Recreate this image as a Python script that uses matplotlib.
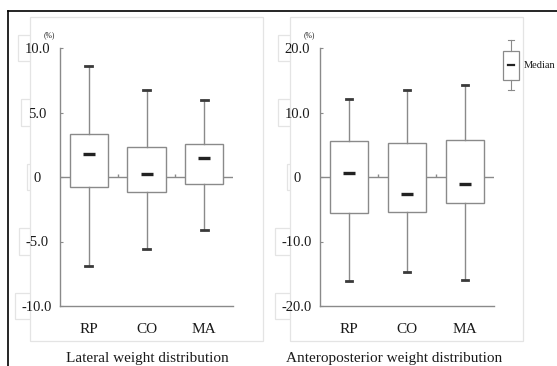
import matplotlib
matplotlib.use("Agg")
import matplotlib.pyplot as plt
from matplotlib.patches import Rectangle
from matplotlib.lines import Line2D
from matplotlib.transforms import offset_copy

plt.rcParams['font.family'] = ['Liberation Serif', 'DejaVu Serif']

# ---- data ----
categories = ["RP", "CO", "MA"]

lat_whislo = [-6.9, -5.6, -4.1]
lat_q1 = [-0.8, -1.15, -0.57]
lat_med = [1.8, 0.26, 1.45]
lat_q3 = [3.3, 2.3, 2.58]
lat_whishi = [8.63, 6.77, 5.97]
lat_ticks = [-10, -5, 0, 5, 10]
lat_ticklabels = ["-10.0", "-5.0", "0", "5.0", "10.0"]

ap_whislo = [-16.1, -14.7, -15.9]
ap_q1 = [-5.63, -5.48, -4.08]
ap_med = [0.57, -2.69, -1.14]
ap_q3 = [5.63, 5.32, 5.79]
ap_whishi = [12.04, 13.5, 14.2]
ap_ticks = [-20, -10, 0, 10, 20]
ap_ticklabels = ["-20.0", "-10.0", "0", "10.0", "20.0"]

titles = ["Lateral weight distribution", "Anteroposterior weight distribution"]
unit_label = "(%)"
legend_label = "Median"

W, H = 557, 366
DPI = 100
fig = plt.figure(figsize=(W / DPI, H / DPI), dpi=DPI)
fig.patch.set_facecolor("white")

def fx(px):
    return px / W

def fy(py):
    return 1 - py / H

GRAY = "#8a8a8a"
DARK = "#3a3a3a"
PANEL_EDGE = "#e4e4e4"
TEXT = "#1a1a1a"

# outer frame (top and left)
fig.add_artist(Line2D([fx(8), fx(W + 2)], [fy(11), fy(11)], color="black", lw=1.2, transform=fig.transFigure, zorder=3))
fig.add_artist(Line2D([fx(8), fx(8)], [fy(11), fy(H + 2)], color="black", lw=1.2, transform=fig.transFigure, zorder=3))

panels = [
    dict(panel=(30, 17, 263, 341), ax=(60, 48, 233, 306), ylim=(-10, 10),
         stats=(lat_whislo, lat_q1, lat_med, lat_q3, lat_whishi),
         ticks=lat_ticks, labels=lat_ticklabels, title=titles[0], title_x=147),
    dict(panel=(290, 17, 523, 341), ax=(320, 48, 494, 306), ylim=(-20, 20),
         stats=(ap_whislo, ap_q1, ap_med, ap_q3, ap_whishi),
         ticks=ap_ticks, labels=ap_ticklabels, title=titles[1], title_x=394),
]

positions = [1, 2, 3]

for p in panels:
    x0, y0, x1, y1 = p["panel"]
    fig.add_artist(Rectangle((fx(x0), fy(y1)), fx(x1) - fx(x0), fy(y0) - fy(y1),
                             transform=fig.transFigure, facecolor="white",
                             edgecolor=PANEL_EDGE, lw=0.9, zorder=1))
    ax0, ay0, ax1, ay1 = p["ax"]
    ax = fig.add_axes([fx(ax0), fy(ay1), fx(ax1) - fx(ax0), fy(ay0) - fy(ay1)])
    ax.set_zorder(2)
    ax.patch.set_visible(False)

    wlo, q1, med, q3, whi = p["stats"]
    bstats = [dict(whislo=a, q1=b, med=c, q3=d, whishi=e, label=lab)
              for a, b, c, d, e, lab in zip(wlo, q1, med, q3, whi, categories)]
    ax.bxp(bstats, positions=positions, widths=0.67, showfliers=False,
           patch_artist=True, capwidths=0.12,
           boxprops=dict(facecolor="white", edgecolor=GRAY, lw=1.0),
           whiskerprops=dict(color=GRAY, lw=1.0),
           capprops=dict(color=DARK, lw=2.0),
           medianprops=dict(lw=0))
    ax.plot(positions, med, ls="none", marker="_", ms=8, mew=2.4, color="#222222", zorder=5)

    ax.axhline(0, color=GRAY, lw=1.0, zorder=0.5)
    ax.plot([1.5, 2.5], [0, 0], ls="none", marker=2, ms=2.5, mew=1.0, color=GRAY, zorder=0.6)

    ax.set_xlim(0.5, 3.5)
    ax.set_ylim(*p["ylim"])
    for s in ["top", "right"]:
        ax.spines[s].set_visible(False)
    for s in ["left", "bottom"]:
        ax.spines[s].set_color(GRAY)
        ax.spines[s].set_linewidth(1.0)

    ax.set_xticks(positions)
    ax.set_xticklabels(categories, fontsize=11, color=TEXT)
    ax.tick_params(axis="x", length=0, pad=12.5)

    ax.set_yticks(p["ticks"])
    ax.set_yticklabels(p["labels"], fontsize=10.5, color=TEXT)
    ax.tick_params(axis="y", direction="in", length=2.2, color=GRAY, pad=16.5)
    for lbl in ax.get_yticklabels():
        lbl.set_horizontalalignment("center")

    # tick label boxes (drawn under the panel)
    trans = offset_copy(ax.get_yaxis_transform(), fig=fig, x=-16.5, y=0, units="points")
    for tv, tl in zip(p["ticks"], p["labels"]):
        fig.text(0, tv, tl, transform=trans, ha="center", va="center", fontsize=10.5,
                 color="none", zorder=0.5,
                 bbox=dict(boxstyle="square,pad=0.45", facecolor="white", edgecolor=PANEL_EDGE, lw=0.9))

    # unit label
    utrans = offset_copy(ax.get_yaxis_transform(), fig=fig, x=-8, y=9, units="points")
    ax.text(0, p["ylim"][1], unit_label, transform=utrans, ha="center", va="center",
            fontsize=5.5, color=TEXT, clip_on=False)

    fig.text(fx(p["title_x"]), fy(362), p["title"], ha="center", va="baseline",
             fontsize=11, color=TEXT)

# ---- legend glyph ----
lx = 511
fig.add_artist(Rectangle((fx(503), fy(80)), fx(519) - fx(503), fy(51) - fy(80), transform=fig.transFigure,
                         facecolor="white", edgecolor=GRAY, lw=0.9, zorder=4))
for ya, yb in [(40, 51), (80, 90)]:
    fig.add_artist(Line2D([fx(lx), fx(lx)], [fy(ya), fy(yb)], color=GRAY, lw=0.8, transform=fig.transFigure, zorder=4))
for yc in [40, 90]:
    fig.add_artist(Line2D([fx(lx - 3), fx(lx + 3)], [fy(yc), fy(yc)], color=GRAY, lw=0.8, transform=fig.transFigure, zorder=4))
fig.add_artist(Line2D([fx(508), fx(514)], [fy(65), fy(65)], color="#222222", lw=1.6, transform=fig.transFigure, zorder=5))
fig.text(fx(524), fy(65), legend_label, ha="left", va="center", fontsize=7.5, color=TEXT, zorder=5)

fig.savefig("out.png", dpi=DPI)
